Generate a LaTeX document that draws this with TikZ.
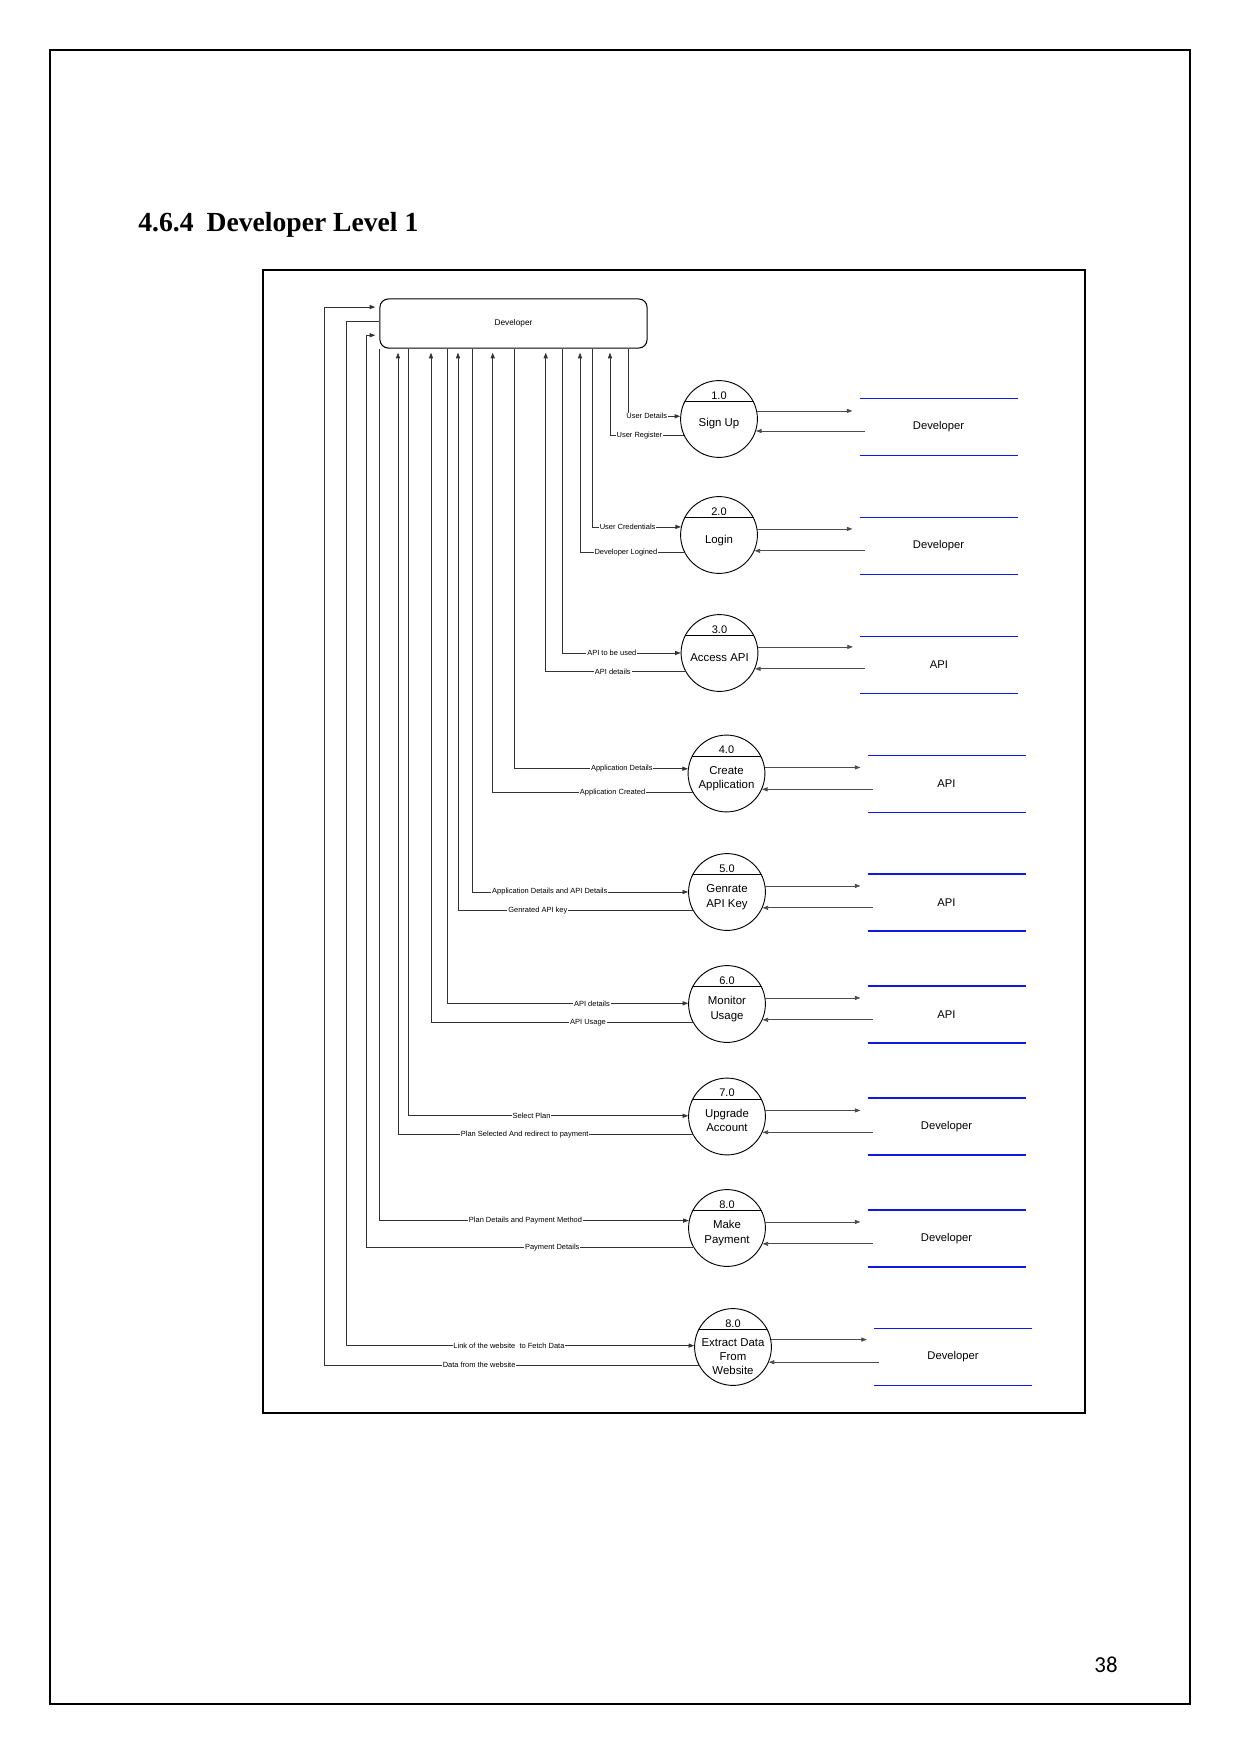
\documentclass[tikz,border=0pt]{standalone}
\usepackage{fontspec}
\setmainfont{Liberation Serif}
\setsansfont{Liberation Sans}
\newfontfamily\pagefont{Carlito}
\usetikzlibrary{arrows.meta}
\definecolor{lineblue}{RGB}{15,25,225}
% process title, lowered inside the circle
\newcommand{\ptxt}[2][1mm]{\raisebox{-#1}[\height][\depth]{\begin{tabular}{@{}c@{}}#2\end{tabular}}}

\begin{document}
\begin{tikzpicture}[x=0.16922mm, y=-0.16922mm,
  every node/.style={font=\sffamily\fontsize{4}{5}\selectfont},
  ent/.style={draw, rounded corners=1.4mm, minimum width=45.2mm, minimum height=8.3mm, line width=0.5pt},
  proc/.style={draw, circle, minimum size=13mm, inner sep=0pt, line width=0.45pt,
    font=\sffamily\fontsize{5.5}{6.9}\selectfont,
    path picture={\draw[line width=0.45pt] ([yshift=-3.6mm]path picture bounding box.north west)
      -- ([yshift=-3.6mm]path picture bounding box.north east);}},
  num/.style={anchor=north, yshift=-1.7mm, inner sep=0.5pt, font=\sffamily\fontsize{5.3}{6}\selectfont},
  sline/.style={draw=lineblue, line width=0.8pt},
  store/.style={minimum width=26.6mm, minimum height=9.5mm, inner sep=0pt,
    font=\sffamily\fontsize{5.4}{6.5}\selectfont,
    append after command={(\tikzlastnode.north west) edge[sline] (\tikzlastnode.north east)
      (\tikzlastnode.south west) edge[sline] (\tikzlastnode.south east)}},
  flow/.style={-{Triangle[length=0.95mm, width=0.7mm]}, draw=black!80, line width=0.4pt},
  back/.style={flow, shorten >=0.7mm},
  sflow/.style={flow, draw=black!70, shorten >=1.2mm},
  sback/.style={flow, draw=black!70, shorten <=-0.85mm},
  lab/.style={fill=white, inner sep=0.4pt, font=\sffamily\fontsize{3.6}{4}\selectfont}]

\useasboundingbox (0,0) rectangle (1241,1755);
\draw[line width=0.6pt] (50,50) rectangle (1190,1704);
\draw[line width=0.6pt] (263,270) rectangle (1085,1413);

\node[anchor=base west, inner sep=0pt, font=\rmfamily\bfseries\fontsize{13.3}{15}\selectfont] (title) at (138,232)
  {4.6.4\hspace{2.2mm}Developer Level 1};
\node[anchor=base, inner sep=0pt, font=\pagefont\fontsize{11}{13}\selectfont] (pgnum) at (1106,1672) {38};

\node[ent] (dev) at (513.5,323.5) {Developer};

\node[proc, label={[num]north:1.0}] (p1) at (719,419) {\ptxt[0.8mm]{Sign Up}};
\node[proc, label={[num]north:2.0}] (p2) at (719,535) {\ptxt{Login}};
\node[proc, label={[num]north:3.0}] (p3) at (719.5,653) {\ptxt{Access API}};
\node[proc, label={[num]north:4.0}] (p4) at (726.5,773.5) {\ptxt[0.85mm]{Create\\Application}};
\node[proc, label={[num]north:5.0}] (p5) at (727,892) {\ptxt[0.85mm]{Genrate\\API Key}};
\node[proc, label={[num]north:6.0}] (p6) at (727,1004) {\ptxt[0.85mm]{Monitor\\Usage}};
\node[proc, label={[num]north:7.0}] (p7) at (727,1116.5) {\ptxt[0.85mm]{Upgrade\\Account}};
\node[proc, label={[num]north:8.0}] (p8) at (727,1228) {\ptxt[0.85mm]{Make\\Payment}};
\node[proc, label={[num]north:8.0}] (p9) at (733,1347) {\ptxt[1.8mm]{Extract Data\\From\\Website}};

\node[store] (s1) at (938.5,427) {Developer};
\node[store] (s2) at (938.5,546) {Developer};
\node[store] (s3) at (939,665) {API};
\node[store] (s4) at (946.5,784) {API};
\node[store] (s5) at (946.5,902.5) {API};
\node[store] (s6) at (946.5,1014.5) {API};
\node[store] (s7) at (946.5,1126.5) {Developer};
\node[store] (s8) at (946.5,1238.5) {Developer};
\node[store] (s9) at (953,1357) {Developer};

% developer <-> processes
\draw[flow] (dev.south -| 628,0) |- node[lab, pos=0.68] {User Details} (p1.176);
\draw[back] (p1.205) -| node[lab, pos=0.30] {User Register} (dev.south -| 610,0);
\draw[flow] (dev.south -| 592,0) |- node[lab, pos=0.70] {User Credentials} (p2.168);
\draw[back] (p2.207) -| node[lab, pos=0.28] {Developer Logined} (dev.south -| 580,0);
\draw[flow] (dev.south -| 562,0) |- node[lab, pos=0.71] {API to be used} (p3.180);
\draw[back] (p3.209) -| node[lab, pos=0.26] {API details} (dev.south -| 545.7,0);
\draw[flow] (dev.south -| 514,0) |- node[lab, pos=0.81] {Application Details} (p4.173);
\draw[back] (p4.209) -| node[lab, pos=0.20] {Application Created} (dev.south -| 492.7,0);
\draw[flow] (dev.south -| 472,0) |- node[lab, pos=0.68] {Application Details and API Details} (p5.180);
\draw[back] (p5.208) -| node[lab, pos=0.33] {Genrated API key} (dev.south -| 458,0);
\draw[flow] (dev.south -| 447.7,0) |- node[lab, pos=0.80] {API details} (p6.179);
\draw[back] (p6.208) -| node[lab, pos=0.20] {API Usage} (dev.south -| 431,0);
\draw[flow] (dev.south -| 408.5,0) |- node[lab, pos=0.72] {Select Plan} (p7.179);
\draw[back] (p7.208) -| node[lab, pos=0.285] {Plan Selected And redirect to payment} (dev.south -| 398,0);
\draw[flow] (dev.south west) |- node[lab, pos=0.736] {Plan Details and Payment Method} (p8.169);
\draw[back] (p8.210) -| node[lab, pos=0.216] {Payment Details} (366.7,0 |- dev.185) -- (dev.185);
\draw[flow] (dev.179) -| (346,0 |- p9.178) -- node[lab, pos=0.468] {Link of the website\ \ to Fetch Data} (p9.178);
\draw[back] (p9.208) -| node[lab, pos=0.293] {Data from the website} (324,0 |- dev.173) -- (dev.173);

% processes <-> stores
\draw[sflow] (p1.12) -- (p1.12 -| s1.west);
\draw[sback] (s1.west |- p1.-18) -- (p1.-18);
\draw[sflow] (p2.9) -- (p2.9 -| s2.west);
\draw[sback] (s2.west |- p2.-24) -- (p2.-24);
\draw[sflow] (p3.9) -- (p3.9 -| s3.west);
\draw[sback] (s3.west |- p3.-24) -- (p3.-24);
\draw[sflow] (p4.9) -- (p4.9 -| s4.west);
\draw[sback] (s4.west |- p4.-24) -- (p4.-24);
\draw[sflow] (p5.9) -- (p5.9 -| s5.west);
\draw[sback] (s5.west |- p5.-24) -- (p5.-24);
\draw[sflow] (p6.9) -- (p6.9 -| s6.west);
\draw[sback] (s6.west |- p6.-24) -- (p6.-24);
\draw[sflow] (p7.9) -- (p7.9 -| s7.west);
\draw[sback] (s7.west |- p7.-24) -- (p7.-24);
\draw[sflow] (p8.9) -- (p8.9 -| s8.west);
\draw[sback] (s8.west |- p8.-24) -- (p8.-24);
\draw[sflow] (p9.11) -- (p9.11 -| s9.west);
\draw[sback] (s9.west |- p9.-23) -- (p9.-23);
\end{tikzpicture}
\end{document}
